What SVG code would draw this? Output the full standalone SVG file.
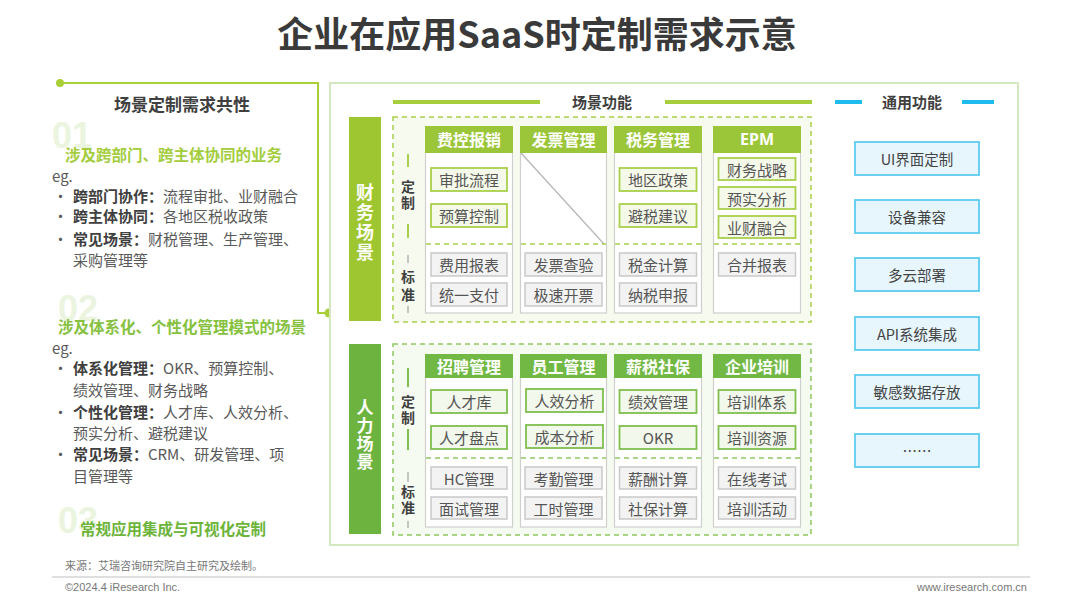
<svg xmlns="http://www.w3.org/2000/svg" width="1080" height="608" viewBox="0 0 1080 608">
<style>
text{font-family:"Noto Sans CJK SC","Liberation Sans",sans-serif;}
.title{font-size:36px;font-weight:700;fill:#3a3a3a;}
.h{font-size:15px;font-weight:700;fill:#404040;}
.lh{font-size:17px;font-weight:700;fill:#404040;}
.num{font-size:36px;font-weight:700;fill:#ebf4de;font-family:"Liberation Sans","Noto Sans",sans-serif;}
.g1{font-size:15.5px;font-weight:700;fill:#a3cd3d;}
.g2{font-size:15.5px;font-weight:700;fill:#86c140;}
.g3{font-size:15.5px;font-weight:700;fill:#6db43b;}
.t{font-size:15px;fill:#595959;}
.b{font-weight:700;fill:#404040;}
.v{writing-mode:vertical-rl;text-anchor:middle;dominant-baseline:central;}
.bar{font-size:18px;font-weight:700;fill:#ffffff;letter-spacing:2px;}
.bar2{font-size:17px;font-weight:700;fill:#ffffff;letter-spacing:1px;}
.lab{font-size:14px;font-weight:700;fill:#404040;letter-spacing:2px;}
.lab2{font-size:14px;font-weight:700;fill:#404040;letter-spacing:4px;}
.hd{font-size:16px;font-weight:700;fill:#ffffff;}
.it{font-size:15px;fill:#555555;}
.rt{font-size:14.5px;fill:#444444;}
.src{font-size:11px;fill:#777777;}
.ft{font-size:11px;fill:#777777;font-family:"Liberation Sans",sans-serif;}
.c{text-anchor:middle;dominant-baseline:central;}
.body{fill:#ffffff;stroke:#cfcfcf;stroke-width:1.2;}
.fhd{fill:#9cc63a;}
.hhd{fill:#72b844;}
.fcus{fill:#f5f9ea;stroke:#a9d04b;stroke-width:1.8;}
.hcus{fill:#f2f8ec;stroke:#7fbe4f;stroke-width:1.8;}
.std{fill:#f3f3f3;stroke:#c9c9c9;stroke-width:1.5;}
.fdash{fill:#f7fbef;stroke:#a8d04a;stroke-width:1.5;stroke-dasharray:5 4;}
.hdash{fill:#f6fbf1;stroke:#90c860;stroke-width:1.5;stroke-dasharray:5 4;}
.fdiv{stroke:#a8d04a;stroke-width:1.5;stroke-dasharray:5 4;}
.hdiv{stroke:#90c860;stroke-width:1.5;stroke-dasharray:5 4;}
.gen{fill:#e7f6fd;stroke:#5ccbef;stroke-width:1.8;}
</style>

<text class="title" x="537" y="48" text-anchor="middle">企业在应用SaaS时定制需求示意</text>

<g id="connectors">
  <polyline points="60,83 318,83 318,313 329,313" fill="none" stroke="#a8cf38" stroke-width="2"/>
  <circle cx="60" cy="83" r="4" fill="#a8cf38"/>
  <circle cx="329" cy="313" r="4.5" fill="#a8cf38"/>
</g>

<g id="left-panel">
  <text class="lh" x="182" y="111" text-anchor="middle">场景定制需求共性</text>
  <text class="num" x="52" y="148">01</text>
  <text class="g1" x="65" y="161">涉及跨部门、跨主体协同的业务</text>
  <text class="t" x="52" y="182">eg.</text>
  <text class="t" x="53" y="202">•</text>
  <text class="t" x="73" y="202"><tspan class="b">跨部门协作：</tspan>流程审批、业财融合</text>
  <text class="t" x="53" y="222">•</text>
  <text class="t" x="73" y="222"><tspan class="b">跨主体协同：</tspan>各地区税收政策</text>
  <text class="t" x="53" y="245">•</text>
  <text class="t" x="73" y="245"><tspan class="b">常见场景：</tspan>财税管理、生产管理、</text>
  <text class="t" x="73" y="266">采购管理等</text>

  <text class="num" x="58" y="321">02</text>
  <text class="g2" x="58" y="333">涉及体系化、个性化管理模式的场景</text>
  <text class="t" x="52" y="354">eg.</text>
  <text class="t" x="53" y="374">•</text>
  <text class="t" x="73" y="374"><tspan class="b">体系化管理：</tspan>OKR、预算控制、</text>
  <text class="t" x="73" y="396">绩效管理、财务战略</text>
  <text class="t" x="53" y="418">•</text>
  <text class="t" x="73" y="418"><tspan class="b">个性化管理：</tspan>人才库、人效分析、</text>
  <text class="t" x="73" y="439">预实分析、避税建议</text>
  <text class="t" x="53" y="460">•</text>
  <text class="t" x="73" y="460"><tspan class="b">常见场景：</tspan>CRM、研发管理、项</text>
  <text class="t" x="73" y="482">目管理等</text>

  <text class="num" x="58" y="533">03</text>
  <text class="g3" x="80" y="535">常规应用集成与可视化定制</text>
</g>

<g id="main-frame">
  <rect x="330" y="83" width="688" height="462" fill="#ffffff" stroke="#d3e8bf" stroke-width="2"/>
  <line x1="393" y1="102" x2="540" y2="102" stroke="#a6cd3c" stroke-width="4"/>
  <line x1="665" y1="102" x2="812" y2="102" stroke="#a6cd3c" stroke-width="4"/>
  <text class="h c" x="602" y="101">场景功能</text>
  <line x1="835" y1="102" x2="862" y2="102" stroke="#1fbbec" stroke-width="4"/>
  <line x1="962" y1="102" x2="994" y2="102" stroke="#1fbbec" stroke-width="4"/>
  <text class="h c" x="912" y="101">通用功能</text>
</g>

<g id="finance">
  <rect x="349" y="117" width="32" height="204" fill="#9dc630"/>
  <text class="bar v" x="365" y="223">财务场景</text>
  <rect class="fdash" x="393" y="117" width="418" height="205"/>
  <line x1="408" y1="154" x2="408" y2="167" stroke="#a8d04a" stroke-width="2"/>
  <text class="lab v" x="408" y="196">定制</text>
  <line x1="408" y1="224" x2="408" y2="238" stroke="#a8d04a" stroke-width="2"/>
  <line x1="408" y1="255" x2="408" y2="263" stroke="#b5b5b5" stroke-width="1.5"/>
  <text class="lab2 v" x="408" y="288">标准</text>
  <line x1="408" y1="306" x2="408" y2="313" stroke="#b5b5b5" stroke-width="1.5"/>
</g>

<g id="col-fkbx">
  <rect class="body" x="425.5" y="152" width="87" height="161"/>
  <rect class="fhd" x="425" y="126" width="88" height="27"/>
  <text class="hd c" x="469" y="139">费控报销</text>
  <line class="fdiv" x1="426" y1="244" x2="512" y2="244"/>
  <rect class="fcus" x="431" y="168" width="76" height="23"/>
  <text class="it c" x="469" y="179.5">审批流程</text>
  <rect class="fcus" x="431" y="204" width="76" height="23"/>
  <text class="it c" x="469" y="215.5">预算控制</text>
  <rect class="std" x="431" y="253" width="76" height="23"/>
  <text class="it c" x="469" y="264.5">费用报表</text>
  <rect class="std" x="431" y="283" width="76" height="23"/>
  <text class="it c" x="469" y="294.5">统一支付</text>
</g>

<g id="col-fpgl">
  <rect class="body" x="520.5" y="152" width="86" height="161"/>
  <rect class="fhd" x="520" y="126" width="87" height="27"/>
  <text class="hd c" x="563.5" y="139">发票管理</text>
  <line x1="521" y1="153" x2="604" y2="244" stroke="#b5b5b5" stroke-width="1.2"/>
  <line class="fdiv" x1="521" y1="244" x2="606" y2="244"/>
  <rect class="std" x="525" y="253" width="77" height="23"/>
  <text class="it c" x="563.5" y="264.5">发票查验</text>
  <rect class="std" x="525" y="283" width="77" height="23"/>
  <text class="it c" x="563.5" y="294.5">极速开票</text>
</g>

<g id="col-swgl">
  <rect class="body" x="614.5" y="152" width="87" height="161"/>
  <rect class="fhd" x="614" y="126" width="88" height="27"/>
  <text class="hd c" x="658" y="139">税务管理</text>
  <line class="fdiv" x1="615" y1="244" x2="701" y2="244"/>
  <rect class="fcus" x="619.5" y="168" width="77" height="23"/>
  <text class="it c" x="658" y="179.5">地区政策</text>
  <rect class="fcus" x="619.5" y="204" width="77" height="23"/>
  <text class="it c" x="658" y="215.5">避税建议</text>
  <rect class="std" x="619.5" y="253" width="77" height="23"/>
  <text class="it c" x="658" y="264.5">税金计算</text>
  <rect class="std" x="619.5" y="283" width="77" height="23"/>
  <text class="it c" x="658" y="294.5">纳税申报</text>
</g>

<g id="col-epm">
  <rect class="body" x="713.5" y="152" width="87" height="161"/>
  <rect class="fhd" x="713" y="126" width="88" height="27"/>
  <text class="hd c" x="757" y="139" style="font-family:'Noto Sans','Noto Sans CJK SC',sans-serif">EPM</text>
  <line class="fdiv" x1="714" y1="244" x2="800" y2="244"/>
  <rect class="fcus" x="718.5" y="158" width="77" height="22"/>
  <text class="it c" x="757" y="169">财务战略</text>
  <rect class="fcus" x="718.5" y="187" width="77" height="22"/>
  <text class="it c" x="757" y="198">预实分析</text>
  <rect class="fcus" x="718.5" y="216" width="77" height="22"/>
  <text class="it c" x="757" y="227">业财融合</text>
  <rect class="std" x="718.5" y="253" width="77" height="23"/>
  <text class="it c" x="757" y="264.5">合并报表</text>
</g>

<g id="hr">
  <rect x="349" y="344" width="32" height="190" fill="#6db33f"/>
  <text class="bar2 v" x="365" y="435">人力场景</text>
  <rect class="hdash" x="393" y="344" width="418" height="191"/>
  <line x1="408" y1="368" x2="408" y2="387" stroke="#7fbe4f" stroke-width="2"/>
  <text class="lab v" x="408" y="411">定制</text>
  <line x1="408" y1="429" x2="408" y2="450" stroke="#7fbe4f" stroke-width="2"/>
  <line x1="408" y1="472" x2="408" y2="482" stroke="#b5b5b5" stroke-width="1.5"/>
  <text class="lab v" x="408" y="501">标准</text>
  <line x1="408" y1="521" x2="408" y2="528" stroke="#b5b5b5" stroke-width="1.5"/>
</g>

<g id="col-zpgl">
  <rect class="body" x="425.5" y="377" width="87" height="150"/>
  <rect class="hhd" x="425" y="354" width="88" height="24"/>
  <text class="hd c" x="469" y="366">招聘管理</text>
  <line class="hdiv" x1="426" y1="458" x2="512" y2="458"/>
  <rect class="hcus" x="431" y="390" width="76" height="23"/>
  <text class="it c" x="469" y="401.5">人才库</text>
  <rect class="hcus" x="431" y="426" width="76" height="23"/>
  <text class="it c" x="469" y="437.5">人才盘点</text>
  <rect class="std" x="431" y="467" width="76" height="22"/>
  <text class="it c" x="469" y="478">HC管理</text>
  <rect class="std" x="431" y="497" width="76" height="22"/>
  <text class="it c" x="469" y="508">面试管理</text>
</g>

<g id="col-yggl">
  <rect class="body" x="520.5" y="377" width="86" height="150"/>
  <rect class="hhd" x="520" y="354" width="87" height="24"/>
  <text class="hd c" x="563.5" y="366">员工管理</text>
  <line class="hdiv" x1="521" y1="458" x2="606" y2="458"/>
  <rect class="hcus" x="526" y="389" width="77" height="23"/>
  <text class="it c" x="564.5" y="400.5">人效分析</text>
  <rect class="hcus" x="526" y="425" width="77" height="23"/>
  <text class="it c" x="564.5" y="436.5">成本分析</text>
  <rect class="std" x="525" y="467" width="77" height="22"/>
  <text class="it c" x="563.5" y="478">考勤管理</text>
  <rect class="std" x="525" y="497" width="77" height="22"/>
  <text class="it c" x="563.5" y="508">工时管理</text>
</g>

<g id="col-xssb">
  <rect class="body" x="614.5" y="377" width="87" height="150"/>
  <rect class="hhd" x="614" y="354" width="88" height="24"/>
  <text class="hd c" x="658" y="366">薪税社保</text>
  <line class="hdiv" x1="615" y1="458" x2="701" y2="458"/>
  <rect class="hcus" x="619.5" y="390" width="77" height="23"/>
  <text class="it c" x="658" y="401.5">绩效管理</text>
  <rect class="hcus" x="619.5" y="426" width="77" height="23"/>
  <text class="it c" x="658" y="437.5">OKR</text>
  <rect class="std" x="619.5" y="467" width="77" height="22"/>
  <text class="it c" x="658" y="478">薪酬计算</text>
  <rect class="std" x="619.5" y="497" width="77" height="22"/>
  <text class="it c" x="658" y="508">社保计算</text>
</g>

<g id="col-qypx">
  <rect class="body" x="713.5" y="377" width="87" height="150"/>
  <rect class="hhd" x="713" y="354" width="88" height="24"/>
  <text class="hd c" x="757" y="366">企业培训</text>
  <line class="hdiv" x1="714" y1="458" x2="800" y2="458"/>
  <rect class="hcus" x="718.5" y="390" width="77" height="23"/>
  <text class="it c" x="757" y="401.5">培训体系</text>
  <rect class="hcus" x="718.5" y="426" width="77" height="23"/>
  <text class="it c" x="757" y="437.5">培训资源</text>
  <rect class="std" x="718.5" y="467" width="77" height="22"/>
  <text class="it c" x="757" y="478">在线考试</text>
  <rect class="std" x="718.5" y="497" width="77" height="22"/>
  <text class="it c" x="757" y="508">培训活动</text>
</g>

<g id="general">
  <g id="gen-ui"><rect class="gen" x="855" y="142" width="124" height="33"/><text class="rt c" x="917" y="158.5">UI界面定制</text></g>
  <g id="gen-device"><rect class="gen" x="855" y="200" width="124" height="33"/><text class="rt c" x="917" y="216.5">设备兼容</text></g>
  <g id="gen-cloud"><rect class="gen" x="855" y="258" width="124" height="33"/><text class="rt c" x="917" y="274.5">多云部署</text></g>
  <g id="gen-api"><rect class="gen" x="855" y="317" width="124" height="33"/><text class="rt c" x="917" y="333.5">API系统集成</text></g>
  <g id="gen-data"><rect class="gen" x="855" y="375" width="124" height="33"/><text class="rt c" x="917" y="391.5">敏感数据存放</text></g>
  <g id="gen-more"><rect class="gen" x="855" y="434" width="124" height="33"/><text class="rt c" x="917" y="450.5">……</text></g>
</g>

<g id="footer">
  <text class="src" x="65" y="570">来源：艾瑞咨询研究院自主研究及绘制。</text>
  <line x1="52" y1="577" x2="1030" y2="577" stroke="#bfbfbf" stroke-width="1"/>
  <text class="ft" x="65" y="591">©2024.4 iResearch Inc.</text>
  <text class="ft" x="1027" y="591" text-anchor="end">www.iresearch.com.cn</text>
</g>
</svg>
